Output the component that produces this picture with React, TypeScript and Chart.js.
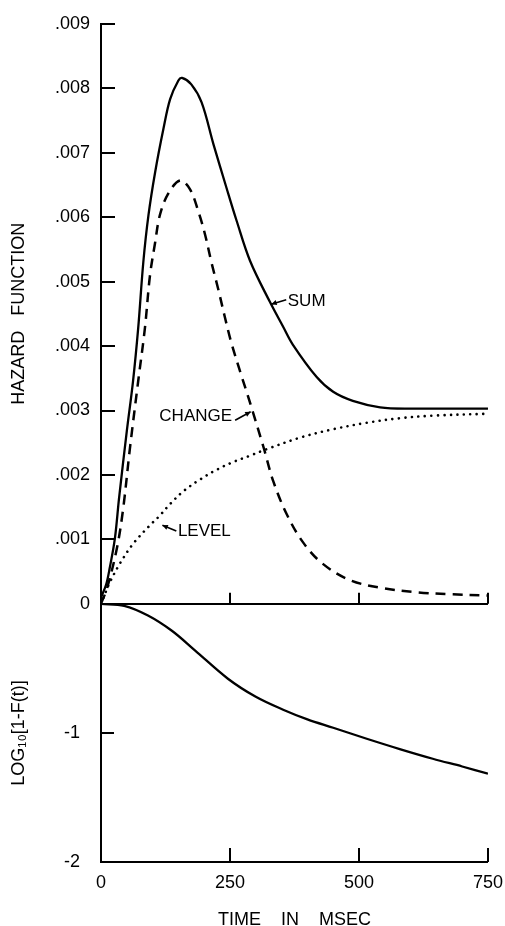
import React, { useEffect, useRef } from "react";
import { Chart, registerables } from "chart.js";

Chart.register(...registerables);

// ---- data (time in msec) ----
const SUM_T = [0, 10, 17, 27, 35, 50, 62, 72, 82, 92, 105, 121, 134, 150, 157, 175, 195, 218, 243, 263, 289, 327, 353, 372, 418, 450, 488, 541, 600, 750];
const SUM_V = [0.0001, 0.0003, 0.00056, 0.00102, 0.00164, 0.00268, 0.00345, 0.00427, 0.0053, 0.00603, 0.0067, 0.00737, 0.00783, 0.00812, 0.00816, 0.00806, 0.00778, 0.00713, 0.00646, 0.00594, 0.00532, 0.00469, 0.0043, 0.00402, 0.00352, 0.00329, 0.00315, 0.00305, 0.00303, 0.00303];

const CHANGE_T = [0, 12, 31, 43, 56, 72, 85, 95, 105, 114, 130, 153, 172, 189, 202, 214, 227, 240, 253, 273, 285, 295, 315, 334, 360, 392, 430, 482, 541, 612, 676, 750];
const CHANGE_V = [0, 0.00025, 0.00087, 0.00148, 0.00241, 0.00345, 0.00427, 0.0051, 0.00561, 0.00603, 0.00636, 0.00657, 0.00644, 0.00608, 0.00572, 0.0053, 0.00489, 0.00445, 0.00404, 0.00352, 0.00322, 0.00296, 0.00243, 0.0019, 0.00139, 0.00095, 0.00062, 0.00037, 0.00025, 0.00018, 0.00015, 0.00013];

const LEVEL_T = [0, 17, 37, 62, 95, 114, 134, 160, 192, 224, 256, 289, 321, 386, 450, 515, 579, 643, 750];
const LEVEL_V = [0, 0.00033, 0.00063, 0.00093, 0.00122, 0.00137, 0.00155, 0.00175, 0.00193, 0.00208, 0.0022, 0.0023, 0.0024, 0.00258, 0.00271, 0.00281, 0.00288, 0.00292, 0.00295];

const LOG_T = [0, 45, 91, 138, 182, 246, 300, 353, 400, 450, 515, 579, 643, 700, 750];
const LOG_V = [0, -0.015, -0.09, -0.21, -0.36, -0.58, -0.72, -0.82, -0.895, -0.96, -1.045, -1.125, -1.2, -1.26, -1.315];

const X_TICKS = [0, 250, 500, 750];
const HAZARD_TICKS = [0, 0.001, 0.002, 0.003, 0.004, 0.005, 0.006, 0.007, 0.008, 0.009];
const LOG_TICKS = [-2, -1, 0];

const X_TITLE = "TIME    IN    MSEC";
const HAZARD_TITLE = "HAZARD   FUNCTION";
const LOG_TITLE = "LOG\u2081\u2080[1-F(t)]";

// curve labels (data coordinates)
const NOTES = [
  { text: "SUM", at: [362, 0.00469], align: "left", tail: [359, 0.00472], tip: [330, 0.00465] },
  { text: "CHANGE", at: [254, 0.00291], align: "right", tail: [260, 0.00285], tip: [290, 0.00298] },
  { text: "LEVEL", at: [149, 0.00113], align: "left", tail: [146, 0.00113], tip: [119, 0.00122] },
];

const pts = (t: number[], v: number[]) => t.map((x, i) => ({ x, y: v[i] }));

const FONT = '"Liberation Sans", Arial, sans-serif';

const hazardLabel = (v: number) => {
  const k = Math.round(v * 1000);
  return k === 0 ? "0" : "." + String(k).padStart(3, "0");
};

const decorPlugin = {
  id: "decor",
  afterDraw(chart: any) {
    const ctx = chart.ctx;
    const { left, bottom } = chart.chartArea;
    const x = chart.scales.x;
    const yT = chart.scales.yTop;
    const yB = chart.scales.yBot;
    ctx.save();
    ctx.strokeStyle = "#000";
    ctx.fillStyle = "#000";
    ctx.lineWidth = 2;
    const line = (x1: number, y1: number, x2: number, y2: number) => {
      ctx.beginPath();
      ctx.moveTo(x1, y1);
      ctx.lineTo(x2, y2);
      ctx.stroke();
    };
    HAZARD_TICKS.forEach((v) => {
      if (v === 0) return;
      const py = Math.round(yT.getPixelForValue(v));
      line(left, py, left + 14, py);
    });
    LOG_TICKS.forEach((v) => {
      if (v === 0 || v === -2) return;
      const py = Math.round(yB.getPixelForValue(v));
      line(left, py, left + 13, py);
    });
    const mid = yT.getPixelForValue(0);
    X_TICKS.forEach((v) => {
      if (v === 0) return;
      const px = Math.round(x.getPixelForValue(v));
      line(px, bottom, px, bottom - 14);
      line(px, mid, px, mid - 11);
    });
    ctx.font = "17px " + FONT;
    ctx.textBaseline = "middle";
    ctx.lineWidth = 1.6;
    NOTES.forEach((n) => {
      const tx = x.getPixelForValue(n.at[0]);
      const ty = yT.getPixelForValue(n.at[1]);
      ctx.textAlign = n.align as CanvasTextAlign;
      ctx.fillText(n.text, tx, ty);
      const ax = x.getPixelForValue(n.tail[0]);
      const ay = yT.getPixelForValue(n.tail[1]);
      const bx = x.getPixelForValue(n.tip[0]);
      const by = yT.getPixelForValue(n.tip[1]);
      line(ax, ay, bx, by);
      const ang = Math.atan2(by - ay, bx - ax);
      const L = 6;
      ctx.beginPath();
      ctx.moveTo(bx, by);
      ctx.lineTo(bx - L * Math.cos(ang - 0.45), by - L * Math.sin(ang - 0.45));
      ctx.lineTo(bx - L * Math.cos(ang + 0.45), by - L * Math.sin(ang + 0.45));
      ctx.closePath();
      ctx.fill();
    });
    ctx.restore();
  },
};

export default function App() {
  const ref = useRef<HTMLCanvasElement | null>(null);

  useEffect(() => {
    if (!ref.current) return;
    Chart.defaults.font.family = FONT;
    Chart.defaults.color = "#000";
    const lineStyle = { borderColor: "#000", pointRadius: 0, tension: 0.35 };
    const chart = new Chart(ref.current, {
      type: "line",
      data: {
        datasets: [
          { label: "SUM", data: pts(SUM_T, SUM_V), yAxisID: "yTop", borderWidth: 2.3, ...lineStyle },
          { label: "CHANGE", data: pts(CHANGE_T, CHANGE_V), yAxisID: "yTop", borderWidth: 2.5, borderDash: [10, 7], ...lineStyle },
          {
            label: "LEVEL",
            data: pts(LEVEL_T, LEVEL_V),
            yAxisID: "yTop",
            borderWidth: 2.6,
            borderDash: [0.01, 6.5],
            borderCapStyle: "round",
            ...lineStyle,
          },
          { label: "LOG", data: pts(LOG_T, LOG_V), yAxisID: "yBot", borderWidth: 2.3, ...lineStyle },
        ],
      },
      options: {
        responsive: false,
        animation: false,
        events: [],
        layout: { padding: { top: 21, right: 17, left: 0, bottom: 0 } },
        plugins: { legend: { display: false }, tooltip: { enabled: false } },
        scales: {
          x: {
            type: "linear",
            position: "bottom",
            min: 0,
            max: 750,
            afterBuildTicks: (s: any) => {
              s.ticks = X_TICKS.map((value) => ({ value }));
            },
            ticks: {
              font: { size: 18 },
              color: "#000",
              padding: 2,
              maxRotation: 0,
              autoSkip: false,
              callback: (v: any) => String(v),
            },
            grid: { display: false },
            border: { display: true, color: "#000", width: 2 },
            title: {
              display: true,
              text: X_TITLE,
              font: { size: 18, lineHeight: 1 },
              color: "#000",
              padding: { top: 0, bottom: -3 },
            },
            afterFit: (s: any) => {
              s.height = 64;
            },
          },
          yBot: {
            type: "linear",
            position: "left",
            stack: "v",
            stackWeight: 259,
            min: -2,
            max: 0,
            afterBuildTicks: (s: any) => {
              s.ticks = LOG_TICKS.map((value) => ({ value }));
            },
            ticks: {
              font: { size: 18 },
              color: "#000",
              padding: 13,
              autoSkip: false,
              callback: (v: any) => (Number(v) === 0 ? "" : String(v)),
            },
            grid: { display: false },
            border: { display: true, color: "#000", width: 2 },
            title: {
              display: true,
              text: LOG_TITLE,
              font: { size: 18, lineHeight: 1 },
              color: "#000",
              padding: { top: 10, bottom: 0 },
            },
            afterFit: (s: any) => {
              s.width = 101;
            },
          },
          yTop: {
            type: "linear",
            position: "left",
            stack: "v",
            stackWeight: 582,
            min: 0,
            max: 0.009,
            afterBuildTicks: (s: any) => {
              s.ticks = HAZARD_TICKS.map((value) => ({ value }));
            },
            ticks: {
              font: { size: 18 },
              color: "#000",
              padding: 11,
              autoSkip: false,
              callback: (v: any) => hazardLabel(Number(v)),
            },
            grid: {
              drawTicks: false,
              lineWidth: 2,
              color: (c: any) => (c.tick && c.tick.value === 0 ? "#000" : "rgba(0,0,0,0)"),
            },
            border: { display: true, color: "#000", width: 2 },
            title: {
              display: true,
              text: HAZARD_TITLE,
              font: { size: 18, lineHeight: 1 },
              color: "#000",
              padding: { top: 10, bottom: 0 },
            },
            afterFit: (s: any) => {
              s.width = 101;
            },
          },
        },
      } as any,
      plugins: [decorPlugin],
    });
    return () => chart.destroy();
  }, []);

  return (
    <div style={{ position: "absolute", left: 0, top: 0, width: 505, height: 926, background: "#fff" }}>
      <canvas ref={ref} width={505} height={926} />
    </div>
  );
}
